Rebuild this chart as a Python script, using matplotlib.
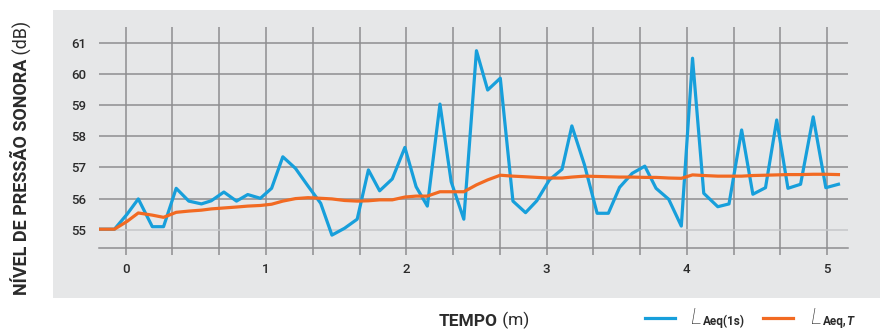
import matplotlib.pyplot as plt
from matplotlib.lines import Line2D
from matplotlib.patches import Rectangle
import numpy as np

# tempo (min) e níveis (dB)
tempo = [-0.18, -0.08, 0.01, 0.09, 0.19, 0.27, 0.36, 0.45, 0.54, 0.61,
         0.70, 0.79, 0.87, 0.96, 1.04, 1.12, 1.21, 1.30, 1.39, 1.47,
         1.56, 1.65, 1.73, 1.81, 1.90, 1.99, 2.07, 2.15, 2.24, 2.32,
         2.41, 2.50, 2.58, 2.67, 2.76, 2.85, 2.93, 3.02, 3.11, 3.18,
         3.27, 3.36, 3.44, 3.52, 3.61, 3.70, 3.78, 3.87, 3.96, 4.04,
         4.12, 4.22, 4.30, 4.39, 4.47, 4.56, 4.64, 4.72, 4.81, 4.90,
         4.99, 5.08]
laeq_1s = [55.02, 55.02, 55.50, 55.99, 55.10, 55.10, 56.33, 55.92, 55.83, 55.93,
           56.21, 55.92, 56.13, 56.01, 56.33, 57.34, 56.97, 56.40, 55.85, 54.83,
           55.05, 55.34, 56.92, 56.25, 56.63, 57.64, 56.38, 55.76, 59.03, 56.54,
           55.34, 60.74, 59.48, 59.86, 55.92, 55.55, 55.93, 56.60, 56.94, 58.33,
           57.08, 55.53, 55.53, 56.36, 56.81, 57.04, 56.33, 55.98, 55.12, 60.50,
           56.17, 55.74, 55.83, 58.20, 56.14, 56.35, 58.52, 56.33, 56.46, 58.62,
           56.35, 56.46]
laeq_t = [55.02, 55.02, 55.27, 55.54, 55.47, 55.40, 55.56, 55.60, 55.63, 55.67,
          55.70, 55.73, 55.76, 55.78, 55.82, 55.92, 56.00, 56.03, 56.01, 55.99,
          55.94, 55.92, 55.93, 55.96, 55.96, 56.05, 56.08, 56.08, 56.22, 56.22,
          56.22, 56.44, 56.60, 56.75, 56.72, 56.70, 56.68, 56.66, 56.66, 56.69,
          56.72, 56.71, 56.70, 56.69, 56.69, 56.68, 56.68, 56.66, 56.65, 56.76,
          56.74, 56.72, 56.72, 56.72, 56.74, 56.75, 56.76, 56.77, 56.77, 56.78,
          56.78, 56.77]
y_ticks = [55, 56, 57, 58, 59, 60, 61]
x_labels = ['0', '1', '2', '3', '4', '5']

blue = '#179fdb'
orange = '#f26a22'
grid_c = '#8e8e90'
text_c = '#2b2b2b'
panel = '#e6e7e8'
font = ['Roboto', 'DejaVu Sans']

W, H = 880, 329
fig = plt.figure(figsize=(W / 100, H / 100), dpi=100)
fig.patches.append(Rectangle((53 / W, 1 - 297.7 / H), 1, (297.7 - 10) / H,
                             transform=fig.transFigure, facecolor=panel,
                             edgecolor='none', zorder=-10))

ax = fig.add_axes([99 / W, 1 - 248 / H, 749 / W, 221 / H])
ax.set_facecolor('none')

ax.plot(tempo, laeq_1s, color=blue, lw=2.3, zorder=3)
ax.plot(tempo, laeq_t, color=orange, lw=2.3, zorder=4)

ax.set_xlim(-0.19, 5.148)
ax.set_ylim(54.417, 61.5)

ax.set_xticks(range(6))
ax.set_xticklabels(x_labels)
ax.set_xticks(np.arange(0, 5.01, 1 / 3), minor=True)
ax.set_yticks(y_ticks)
ax.tick_params(axis='x', which='both', length=5, width=1.1, color=grid_c,
               direction='out', pad=6)
ax.tick_params(axis='y', length=0, pad=9)
for lab in ax.get_xticklabels() + ax.get_yticklabels():
    lab.set_family(font)
    lab.set_fontsize(9.5)
    lab.set_color(text_c)
    lab.set_fontweight('medium')

ax.grid(True, which='both', axis='x', color=grid_c, lw=1.1, zorder=1)
ax.grid(True, axis='y', color=grid_c, lw=1.1, zorder=1)
ax.get_ygridlines()[0].set_color('#c6c7c9')
for s in ['top', 'right', 'left']:
    ax.spines[s].set_visible(False)
ax.spines['bottom'].set_color(grid_c)
ax.spines['bottom'].set_linewidth(1.1)


def after(txt, base, **kw):
    # texto encadeado logo a seguir a outro
    a = plt.Annotation(txt, xy=kw.pop('xy', (1, 0)), xycoords=base,
                       family=font, color=text_c, **kw)
    fig.add_artist(a)
    return a


# título do eixo y
t1 = fig.text(22 / W, 1 - 295 / H, 'NÍVEL DE PRESSÃO SONORA', rotation=90,
              ha='center', va='bottom', family=font, fontsize=13,
              fontweight='bold', color=text_c)
after(' (dB)', t1, xy=(0.5, 1), rotation=90, ha='center', va='bottom',
      fontsize=13)

# título do eixo x
t2 = fig.text(439 / W, 1 - 326 / H, 'TEMPO', ha='left', va='baseline',
              family=font, fontsize=12.5, fontweight='bold', color=text_c)
after(' (m)', t2, ha='left', va='bottom', fontsize=12.5)

# legenda
for x0, c in [(645, blue), (763, orange)]:
    fig.add_artist(Line2D([x0 / W, (x0 + 30) / W], [1 - 318 / H, 1 - 318 / H],
                          color=c, lw=2.3, transform=fig.transFigure))

l1 = fig.text(690 / W, 1 - 324 / H, 'L', ha='left', va='baseline',
              family=font, fontsize=16, style='italic', fontweight='light',
              color=text_c)
after('Aeq(1s)', l1, xytext=(1, 0.5), textcoords='offset points',
      ha='left', va='bottom', fontsize=8.5, fontweight='bold')
l2 = fig.text(810 / W, 1 - 324 / H, 'L', ha='left', va='baseline',
              family=font, fontsize=16, style='italic', fontweight='light',
              color=text_c)
s2 = after('Aeq,', l2, xytext=(1, 0.5), textcoords='offset points',
           ha='left', va='bottom', fontsize=8.5, fontweight='bold')
after('T', s2, ha='left', va='bottom', fontsize=8.5, fontweight='bold',
      style='italic')

fig.savefig('out.png', dpi=100)
